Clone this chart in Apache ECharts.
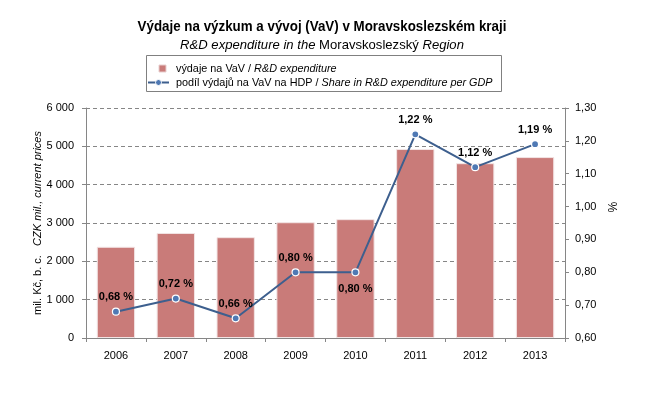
<!DOCTYPE html>
<html>
<head>
<meta charset="utf-8">
<script src="https://cdn.jsdelivr.net/npm/echarts@6/dist/echarts.min.js"></script>
<style>
html,body{margin:0;padding:0;background:#fff;}
#chart{width:645px;height:399px;}
</style>
</head>
<body>
<div id="chart"></div>
<script>
const years = ['2006','2007','2008','2009','2010','2011','2012','2013'];
const expenditure = [2380, 2740, 2630, 3020, 3100, 4930, 4560, 4720];
const shareGDP = [0.68, 0.72, 0.66, 0.80, 0.80, 1.22, 1.12, 1.19];
const shareLabelPos = ['top','top','top','top','bottom','top','top','top'];
const leftTicks = [0, 1000, 2000, 3000, 4000, 5000, 6000];
const rightTicks = [0.6, 0.7, 0.8, 0.9, 1.0, 1.1, 1.2, 1.3];
const titleText = 'Výdaje na výzkum a vývoj (VaV) v Moravskoslezském kraji';
const legendBar = ['výdaje na VaV / ', 'R&D expenditure'];
const legendLine = ['podíl výdajů na VaV na HDP / ', 'Share in R&D expenditure per GDP'];

const FONT = 'Liberation Sans, Arial, sans-serif';
const BAR_COLOR = '#C97B79';
const LINE_COLOR = '#3D5F8E';
const MARK_COLOR = '#4F79B4';
const chart = echarts.init(document.getElementById('chart'), null, {renderer:'canvas'});

const fmtThousands = v => String(v).replace(/\B(?=(\d{3})+(?!\d))/g, ' ');
const fmtComma = (v, d) => v.toFixed(d).replace('.', ',');

const richNI = size => ({
  n: {fontFamily: FONT, fontSize: size, fontWeight: 'normal', fontStyle: 'normal', fill: '#000', color: '#000'},
  i: {fontFamily: FONT, fontSize: size, fontWeight: 'normal', fontStyle: 'italic', fill: '#000', color: '#000'}
});

chart.setOption({
  animation: false,
  backgroundColor: '#fff',
  textStyle: {fontFamily: FONT},
  graphic: [{
    type: 'text', x: 322, y: 27, scaleX: 0.89,
    style: {text: titleText, font: 'bold 15px ' + FONT, fill: '#000', align: 'center', verticalAlign: 'middle'}
  }, {
    type: 'text', x: 322, y: 45, scaleX: 0.97,
    style: {
      text: '{i|R&D expenditure in the} {n|Moravskoslezský} {i|Region}',
      font: '13.5px ' + FONT, fill: '#000', align: 'center', verticalAlign: 'middle',
      rich: richNI(13.5)
    }
  }, {
    type: 'rect', shape: {x: 146.5, y: 55.5, width: 355, height: 36},
    style: {fill: '#fff', stroke: '#808080', lineWidth: 1}
  }, {
    type: 'rect', shape: {x: 159, y: 65, width: 7, height: 7},
    style: {fill: BAR_COLOR, stroke: '#E8CFCF', lineWidth: 1}
  }, {
    type: 'line', shape: {x1: 148, y1: 82.5, x2: 169, y2: 82.5},
    style: {stroke: LINE_COLOR, lineWidth: 2}
  }, {
    type: 'circle', shape: {cx: 158.5, cy: 82.5, r: 3},
    style: {fill: MARK_COLOR, stroke: '#fff', lineWidth: 1}
  }, {
    type: 'text', x: 176, y: 68.5, scaleX: 0.985,
    style: {
      text: '{n|' + legendBar[0] + '}{i|' + legendBar[1] + '}',
      font: '11px ' + FONT, fill: '#000', align: 'left', verticalAlign: 'middle', rich: richNI(11)
    }
  }, {
    type: 'text', x: 176, y: 82.5, scaleX: 0.985,
    style: {
      text: '{n|' + legendLine[0] + '}{i|' + legendLine[1] + '}',
      font: '11px ' + FONT, fill: '#000', align: 'left', verticalAlign: 'middle', rich: richNI(11)
    }
  }],
  grid: {left: 86, right: 80, top: 108, bottom: 61, containLabel: false},
  xAxis: {
    type: 'category',
    data: years,
    axisLine: {lineStyle: {color: '#868686'}},
    axisTick: {show: true, length: 4, lineStyle: {color: '#868686'}},
    axisLabel: {color: '#000', fontSize: 11, margin: 12, fontFamily: FONT}
  },
  yAxis: [{
    type: 'value',
    min: leftTicks[0], max: leftTicks[leftTicks.length - 1], interval: 1000,
    name: 'mil. Kč, b. c.   {i|CZK mil., current prices}',
    nameLocation: 'middle',
    nameGap: 43,
    nameMoveOverlap: false,
    nameRotate: 90,
    nameTextStyle: {
      fontFamily: FONT, fontSize: 11, color: '#000',
      rich: {i: {fontFamily: FONT, fontSize: 11, fontStyle: 'italic', color: '#000'}}
    },
    axisLine: {show: true, lineStyle: {color: '#868686'}},
    axisTick: {show: true, length: 4, lineStyle: {color: '#868686'}},
    axisLabel: {color: '#000', fontSize: 11, margin: 12, fontFamily: FONT, formatter: v => fmtThousands(v)},
    splitLine: {show: true, lineStyle: {color: '#868686', type: [4, 3]}}
  }, {
    type: 'value',
    min: rightTicks[0], max: rightTicks[rightTicks.length - 1], interval: 0.1,
    name: '%',
    nameLocation: 'middle',
    nameGap: 40,
    nameMoveOverlap: false,
    nameRotate: -90,
    nameTextStyle: {fontFamily: FONT, fontSize: 12, color: '#000', padding: [0, 32, 0, 0]},
    axisLine: {show: true, lineStyle: {color: '#868686'}},
    axisTick: {show: true, length: 4, lineStyle: {color: '#868686'}},
    axisLabel: {color: '#000', fontSize: 11, margin: 10, fontFamily: FONT, formatter: v => fmtComma(v, 2)},
    splitLine: {show: false}
  }],
  series: [{
    name: 'výdaje na VaV',
    type: 'bar',
    yAxisIndex: 0,
    data: expenditure,
    barCategoryGap: '36%',
    itemStyle: {color: BAR_COLOR, borderColor: '#F2E4E4', borderWidth: 1}
  }, {
    name: 'podíl výdajů na VaV na HDP',
    type: 'line',
    yAxisIndex: 1,
    data: shareGDP.map((v, i) => ({
      value: v,
      label: {position: shareLabelPos[i], distance: shareLabelPos[i] === 'bottom' ? 7 : 5}
    })),
    symbol: 'circle',
    symbolSize: 7,
    lineStyle: {color: LINE_COLOR, width: 2},
    itemStyle: {color: MARK_COLOR, borderColor: '#fff', borderWidth: 1.2},
    label: {
      show: true,
      fontFamily: FONT,
      fontSize: 11,
      fontWeight: 'bold',
      color: '#000',
      formatter: p => fmtComma(p.value, 2) + ' %'
    },
    z: 5
  }]
});
</script>
</body>
</html>
